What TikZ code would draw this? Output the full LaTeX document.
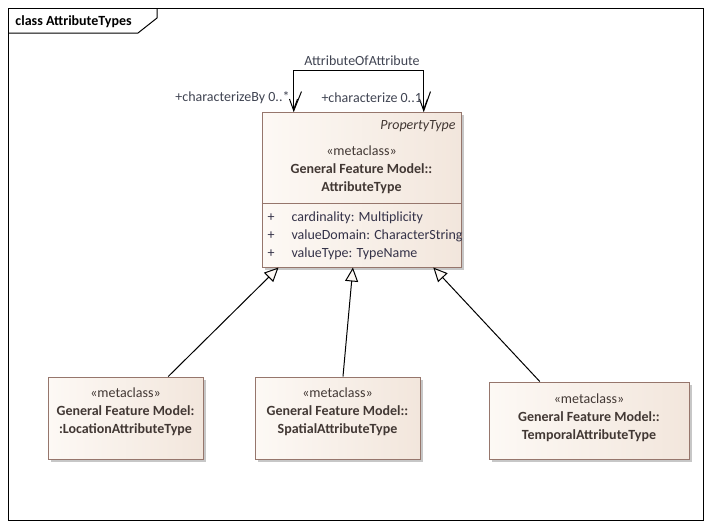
\documentclass[tikz,border=0pt]{standalone}
\usepackage{fontspec}
\setmainfont{Carlito}
\usepackage{tikz}
\usetikzlibrary{arrows.meta,calc,positioning,shadows}
\definecolor{classfillA}{RGB}{253,249,245}
\definecolor{classfillB}{RGB}{242,230,220}
\definecolor{classdraw}{RGB}{150,118,108}
\definecolor{classtext}{RGB}{66,56,52}
\definecolor{attrtext}{RGB}{52,50,72}
\definecolor{roletext}{RGB}{64,68,82}
\newcommand{\umlsize}{\fontsize{14}{18}\selectfont}

\begin{document}
\begin{tikzpicture}[x=1pt, y=-1pt, line width=1pt,
	umlclass/.style={draw=classdraw, left color=classfillA, right color=classfillB, inner sep=0pt,
		drop shadow={shadow xshift=3pt, shadow yshift=-3pt, fill=black!22, opacity=1}},
	clstext/.style={text=classtext, inner sep=0pt, align=center, font=\umlsize},
	attrline/.style={text=attrtext, inner sep=0pt, anchor=west, font=\umlsize},
	lbl/.style={text=roletext, inner sep=0pt, font=\umlsize},
	gen/.style={-{Triangle[fill=classfillA, length=14pt, width=13pt]}},
	assoc/.style={{Straight Barb[length=11pt,width=8pt]}-{Straight Barb[length=11pt,width=8pt]}}]
	\useasboundingbox (0,0) rectangle (711,528);

	% frame
	\draw (8,8) rectangle (703,520);
	\draw (8,33) -- (138,33) -- (157,18) -- (157,8);
	\node [anchor=west, inner sep=0pt, font=\umlsize\bfseries] (title) at (15,21.5) {class AttributeTypes};

	% AttributeType
	\node [umlclass, minimum width=199pt, minimum height=155pt] (attr) at (361.5,189.5) {};
	\node [clstext, anchor=east, font=\umlsize\itshape] (ptype) at (456,126) {PropertyType};
	\node [clstext] (attrname) at (361.5,170) {«metaclass»\\\textbf{General Feature Model::}\\\textbf{AttributeType}};
	\draw [classdraw] (attr.west |- 0,203) -- (attr.east |- 0,203);
	\foreach \y/\txt in {218/cardinality: Multiplicity, 236/valueDomain: CharacterString, 254/valueType: TypeName} {
		\node [attrline] (plus\y) at (267,\y) {+};
		\node [attrline] (attr\y) at (291,\y) {\txt};
	}

	% AttributeOfAttribute
	\coordinate (byend) at ($(attr.north west)+(32,0)$);
	\coordinate (ofend) at ($(attr.north west)+(162,0)$);
	\draw [assoc] (byend) -- ++(0,-41) -| (ofend);
	\draw (byend) -- ++(8,-20);
	\draw (ofend) -- ++(7,-20);
	\node [lbl] (aoa) at (362,61) {AttributeOfAttribute};
	\node [lbl, anchor=east] (by) at (290,98) {+characterizeBy 0..*};
	\node [lbl, anchor=west] (ch) at (321,98) {+characterize 0..1};

	% subtypes
	\node [umlclass, minimum width=155pt, minimum height=82pt] (loc) at (125.5,418) {};
	\node [clstext] (locname) at (125.5,412) {«metaclass»\\\textbf{General Feature Model:}\\\textbf{:LocationAttributeType}};
	\node [umlclass, minimum width=165pt, minimum height=82pt] (spat) at (337.5,418) {};
	\node [clstext] (spatname) at (337.5,412) {«metaclass»\\\textbf{General Feature Model::}\\\textbf{SpatialAttributeType}};
	\node [umlclass, minimum width=200pt, minimum height=77pt] (temp) at (589,420.5) {};
	\node [clstext] (tempname) at (589,418) {«metaclass»\\\textbf{General Feature Model::}\\\textbf{TemporalAttributeType}};

	\draw [gen] ($(loc.north west)!0.774!(loc.north east)$) -- ($(attr.south west)!0.085!(attr.south east)$);
	\draw [gen] ($(spat.north west)!0.533!(spat.north east)$) -- ($(attr.south west)!0.457!(attr.south east)$);
	\draw [gen] ($(temp.north west)!0.255!(temp.north east)$) -- ($(attr.south west)!0.859!(attr.south east)$);
\end{tikzpicture}
\end{document}
